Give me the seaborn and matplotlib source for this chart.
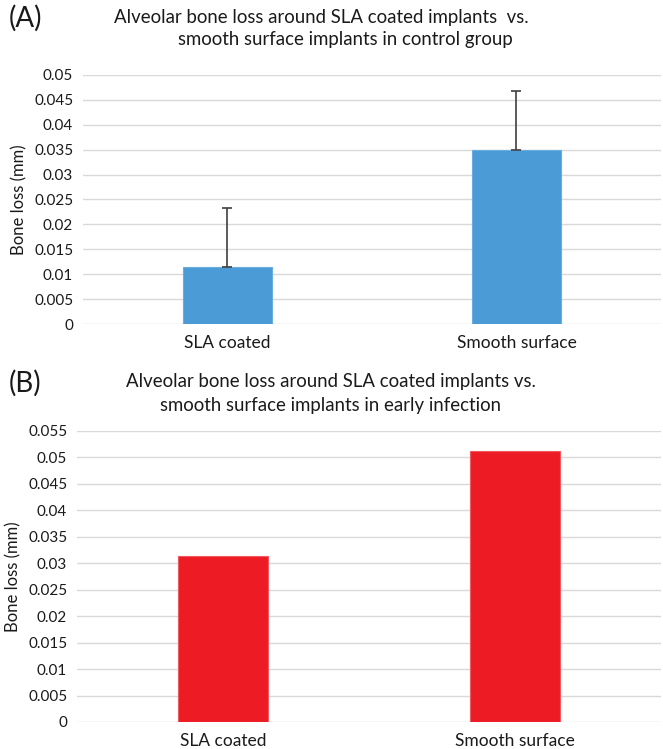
import numpy as np
import pandas as pd
import matplotlib
matplotlib.use("Agg")
import matplotlib.pyplot as plt
import seaborn as sns
from matplotlib.ticker import FuncFormatter, MultipleLocator

# Panel data
groups = ["SLA coated", "Smooth surface"]
control_loss = [0.0115, 0.035]
control_err = [0.0118, 0.0117]
infection_loss = [0.0314, 0.0512]

sns.set_theme(style="white")
plt.rcParams['font.family'] = ['Lato', 'DejaVu Sans']

fig = plt.figure(figsize=(6.63, 7.49), dpi=100)
ax_a = fig.add_axes([0.125, 0.5674, 0.872, 0.3325])
ax_b = fig.add_axes([0.116, 0.0361, 0.881, 0.3885])

df_a = pd.DataFrame({"group": groups, "loss": control_loss})
df_b = pd.DataFrame({"group": groups, "loss": infection_loss})

sns.barplot(data=df_a, x="group", y="loss", color="#4a9bd6", width=0.31,
            errorbar=None, ax=ax_a, saturation=1, edgecolor="#6aaee0", linewidth=0.8)
ax_a.errorbar(np.arange(len(groups)), control_loss,
              yerr=[np.zeros(len(groups)), control_err], fmt="none",
              ecolor="#404040", elinewidth=1.2, capsize=3.5, capthick=1.2, zorder=4)

sns.barplot(data=df_b, x="group", y="loss", color="#ed1c24", width=0.31,
            errorbar=None, ax=ax_b, saturation=1, edgecolor="#f05a60", linewidth=0.8)

fmt = FuncFormatter(lambda v, p: "0" if abs(v) < 1e-12 else f"{v:g}")
for ax, top in [(ax_a, 0.05), (ax_b, 0.055)]:
    ax.set_ylim(0, top)
    ax.set_xlim(-0.5, 1.5)
    ax.yaxis.set_major_locator(MultipleLocator(0.005))
    ax.yaxis.set_major_formatter(fmt)
    ax.grid(axis="y", color="#d9d9d9", linewidth=1.0)
    ax.set_axisbelow(True)
    for s in ax.spines.values():
        s.set_visible(False)
    ax.tick_params(axis="y", length=0, pad=7, labelsize=11, labelcolor="#1a1a1a")
    ax.tick_params(axis="x", length=0, pad=8, labelsize=12.5, labelcolor="#1a1a1a")
    ax.set_xlabel("")
    ax.set_ylabel("Bone loss (mm)", fontsize=12, color="#1a1a1a", labelpad=5)

# Panel titles and letters
tsize = 13.4
fig.text(321 / 663, 1 - 17 / 749, "Alveolar bone loss around SLA coated implants  vs.",
         ha="center", va="center", fontsize=tsize, color="#1a1a1a")
fig.text(345 / 663, 1 - 39 / 749, "smooth surface implants in control group",
         ha="center", va="center", fontsize=tsize, color="#1a1a1a")
fig.text(331 / 663, 1 - 382 / 749, "Alveolar bone loss around SLA coated implants vs.",
         ha="center", va="center", fontsize=tsize, color="#1a1a1a")
fig.text(331 / 663, 1 - 405 / 749, "smooth surface implants in early infection",
         ha="center", va="center", fontsize=tsize, color="#1a1a1a")
fig.text(9 / 663, 1 - 18 / 749, "(A)", ha="left", va="center", fontsize=20, color="#1a1a1a")
fig.text(9 / 663, 1 - 383 / 749, "(B)", ha="left", va="center", fontsize=20, color="#1a1a1a")

fig.savefig("out.png", dpi=100, facecolor="white")
